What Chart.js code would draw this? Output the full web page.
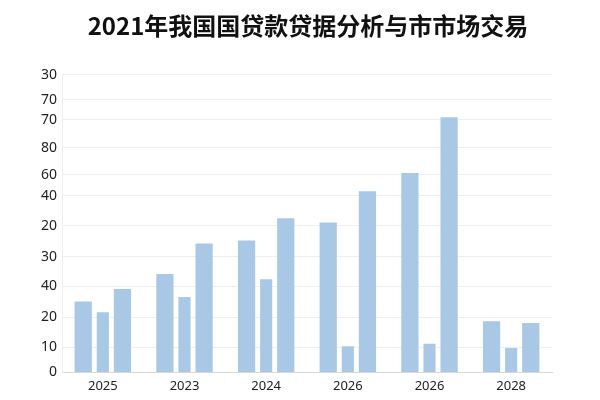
<!DOCTYPE html>
<html>
<head>
<meta charset="utf-8">
<script src="https://cdn.jsdelivr.net/npm/chart.js@4"></script>
<style>
  html, body { margin: 0; padding: 0; background: #fff; }
  #wrap { width: 600px; height: 400px; }
</style>
</head>
<body>
<div id="wrap"><canvas id="loanChart"></canvas></div>
<script>
// Категории и значения (читаются с картинки)
const categories = ['2025', '2023', '2024', '2026', '2026', '2028'];
const seriesA = [23.8, 33.1, 44.3, 50.4, 67.0, 17.2];
const seriesB = [20.2, 25.3, 31.3, 8.8, 9.6, 8.2];
const seriesC = [28.0, 43.3, 51.8, 60.9, 85.7, 16.6];

// Метки оси Y идут неравномерно, как на исходнике
const tickValues = [0, 8.4, 18.5, 28.9, 38.9, 49.3, 59.4, 66.4, 75.5, 84.9, 91.6, 100];
const tickLabels = ['0', '10', '20', '40', '30', '20', '40', '60', '80', '70', '70', '30'];

const barColor = '#a9c8e5';

const ctx = document.getElementById('loanChart').getContext('2d');
new Chart(ctx, {
    type: 'bar',
    data: {
        labels: categories,
        datasets: [
            { data: seriesA, backgroundColor: barColor, barPercentage: 0.88 },
            { data: seriesB, backgroundColor: barColor, barPercentage: 0.62 },
            { data: seriesC, backgroundColor: barColor, barPercentage: 0.88 }
        ]
    },
    options: {
        responsive: true,
        maintainAspectRatio: false,
        animation: false,
        datasets: { bar: { categoryPercentage: 0.72 } },
        layout: { padding: { left: 16, right: 0, top: 0, bottom: 0 } },
        plugins: {
            legend: { display: false },
            tooltip: { enabled: false },
            title: {
                display: true,
                text: '2021年我国国贷款贷据分析与市市场交易',
                color: '#111',
                font: { family: '"Noto Sans CJK SC", sans-serif', size: 24, weight: 'bold' },
                padding: { top: 11, bottom: 35 }
            }
        },
        scales: {
            x: {
                grid: { display: false, drawTicks: false },
                border: { color: '#d8d8d8' },
                ticks: {
                    color: '#222',
                    font: { family: '"Noto Sans", sans-serif', size: 13 },
                    padding: 6
                }
            },
            y: {
                min: 0,
                max: 100,
                afterBuildTicks: axis => {
                    axis.ticks = tickValues.map(v => ({ value: v }));
                },
                afterFit: axis => { axis.width = 46; },
                grid: { color: '#eceff2', drawTicks: false },
                border: { color: '#eceff2' },
                ticks: {
                    color: '#222',
                    font: { family: '"Noto Sans", sans-serif', size: 14 },
                    padding: 5,
                    callback: (value, index) => tickLabels[index]
                }
            },
            // пустая ось справа, чтобы оставить поле как на исходнике
            yRight: {
                position: 'right',
                grid: { display: false },
                border: { display: false },
                ticks: { display: false },
                afterFit: axis => { axis.width = 48; }
            }
        }
    }
});
</script>
</body>
</html>
